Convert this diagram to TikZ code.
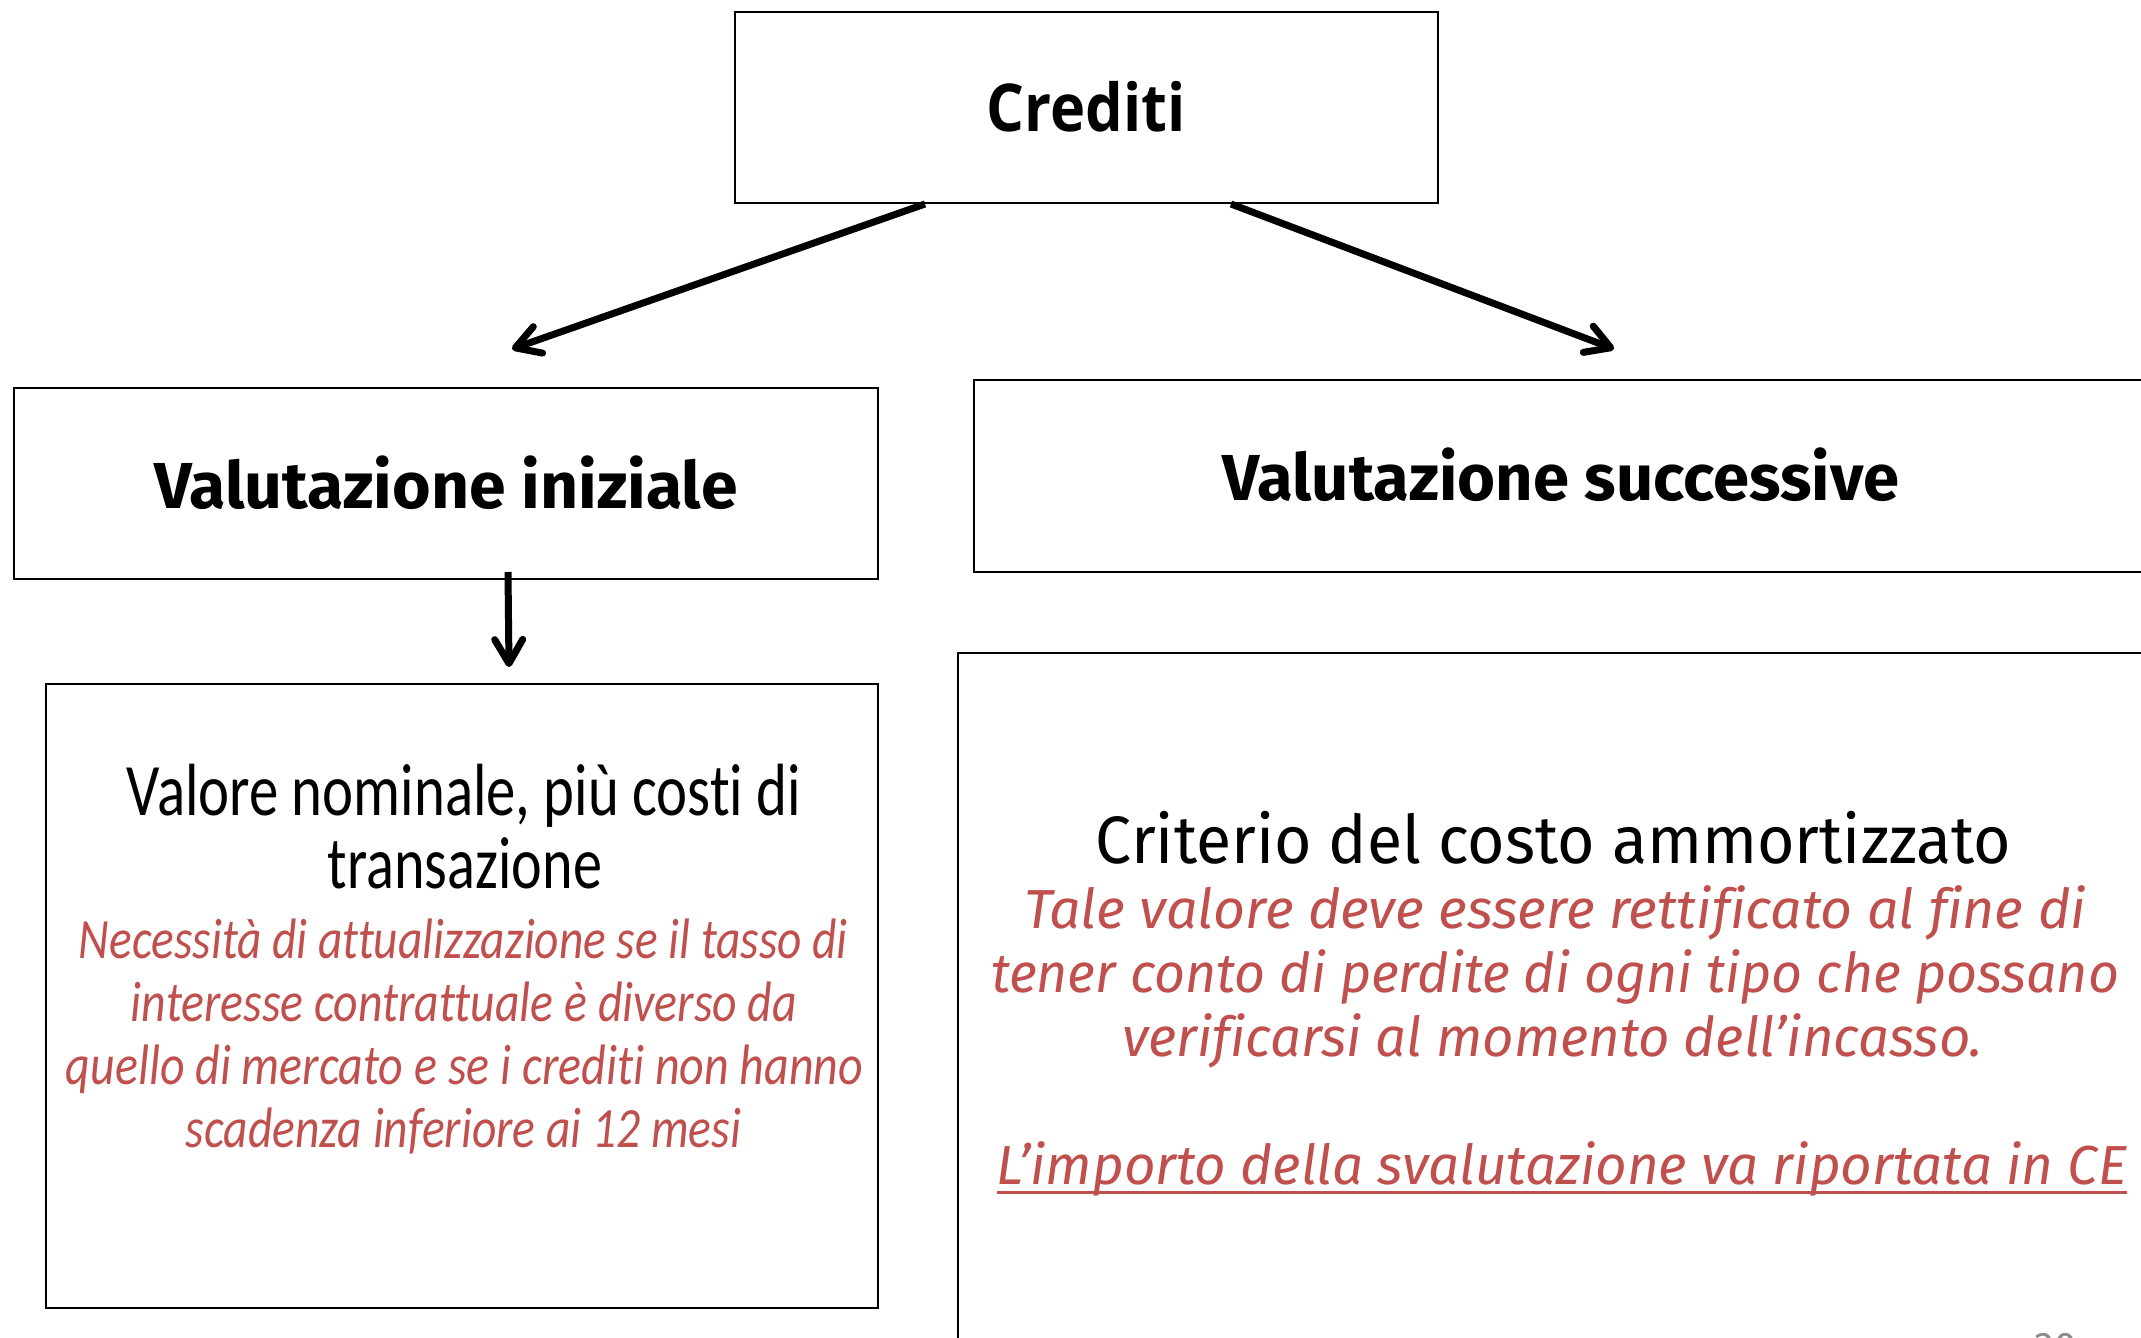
\documentclass[tikz,border=0pt]{standalone}
\usepackage{fontspec}
\usepackage{graphicx}
\setmainfont[Ligatures=NoCommon]{Fira Sans}
\newfontfamily\credfont{Open Sans}
\newfontfamily\calfont[Ligatures=NoCommon]{Carlito}
\usetikzlibrary{arrows.meta}
\definecolor{accred}{HTML}{C0504D}
\definecolor{pgnum}{HTML}{8C8C8C}
\newcommand{\fitw}[2]{\resizebox{#1}{\height}{#2}}
\tikzset{
  box/.style={draw=black, line width=1pt, fill=none, inner sep=0pt},
  txt/.style={anchor=base, inner sep=0pt, outer sep=0pt},
  arr/.style={line width=3.5pt, -{Straight Barb[length=12pt,width=14pt,round]}},
  titleA/.style={font=\credfont\bfseries\fontsize{33pt}{40pt}\selectfont},
  titleB/.style={font=\bfseries\fontsize{32.5pt}{40pt}\selectfont},
  calblack/.style={font=\calfont\fontsize{37pt}{44pt}\selectfont},
  calred/.style={font=\calfont\itshape\fontsize{28.5pt}{34pt}\selectfont, text=accred},
  rblack/.style={font=\fontsize{33.5pt}{40pt}\selectfont},
  rred/.style={font=\itshape\fontsize{27.5pt}{33pt}\selectfont, text=accred}
}
\begin{document}
\begin{tikzpicture}[x=0.5pt,y=-0.5pt]
\useasboundingbox (0,0) rectangle (2141,1338);
\clip (0,0) rectangle (2141,1338);
\fill[white] (0,0) rectangle (2141,1338);

% boxes
\node[box, minimum width=351.5pt, minimum height=95.5pt] (cred) at (1086.5,107.5) {};
\node[box, minimum width=432pt, minimum height=95.5pt] (iniz) at (446,483.5) {};
\node[box, minimum width=587pt, minimum height=96pt] (succ) at (1561,476) {};
\node[box, minimum width=416pt, minimum height=312pt] (valnom) at (462,996) {};
\node[box, minimum width=597pt, minimum height=351pt] (crit) at (1555,1004) {};

% titles
\node[txt, titleA] (credtxt) at (1086,132) {\fitw{99.5pt}{Crediti}};
\node[txt, titleB] (iniztxt) at (446,508) {\fitw{291.5pt}{Valutazione iniziale}};
\node[txt, titleB] (succtxt) at (1561,500) {\fitw{338pt}{Valutazione successive}};

% left box text
\node[txt, calblack] (l1) at (464,815) {\fitw{337pt}{Valore nominale, più costi di}};
\node[txt, calblack] (l2) at (465,888) {\fitw{137pt}{transazione}};
\node[txt, calred] (r1) at (463.5,958) {\fitw{384.5pt}{Necessità di attualizzazione se il tasso di}};
\node[txt, calred] (r2) at (464,1021) {\fitw{333pt}{interesse contrattuale è diverso da}};
\node[txt, calred] (r3) at (464.5,1084) {\fitw{398.5pt}{quello di mercato e se i crediti non hanno}};
\node[txt, calred] (r4) at (463.5,1147) {\fitw{277.5pt}{scadenza inferiore ai 12 mesi}};

% right box text
\node[txt, rblack] (c1) at (1553.5,863) {\fitw{457.5pt}{Criterio del costo ammortizzato}};
\node[txt, rred] (c2) at (1555,928) {\fitw{531pt}{Tale valore deve essere rettificato al fine di}};
\node[txt, rred] (c3) at (1555,992) {\fitw{564pt}{tener conto di perdite di ogni tipo che possano}};
\node[txt, rred] (c4) at (1552.5,1056) {\fitw{430.5pt}{verificarsi al momento dell’incasso.}};
\node[txt, rred] (c5) at (1562,1184) {\fitw{565pt}{L’importo della svalutazione va riportata in CE}};
\draw[accred, line width=1.5pt] ([yshift=-4pt]c5.base west) -- ([yshift=-4pt]c5.base east);

% page number (cut by the page edge, as in the original)
\node[txt, text=pgnum, font=\fontsize{20pt}{24pt}\selectfont] (pg) at (2056,1360) {30};

% connectors
\coordinate (endL) at (512,349);
\coordinate (endR) at (1614,349);
\coordinate (endD) at (509,667);
\draw[arr] ([xshift=95.5pt]cred.south west) -- (endL);
\draw[arr] ([xshift=248.5pt]cred.south west) -- (endR);
\draw[arr] ([xshift=247.5pt,yshift=4pt]iniz.south west) -- (endD);
\end{tikzpicture}
\end{document}
